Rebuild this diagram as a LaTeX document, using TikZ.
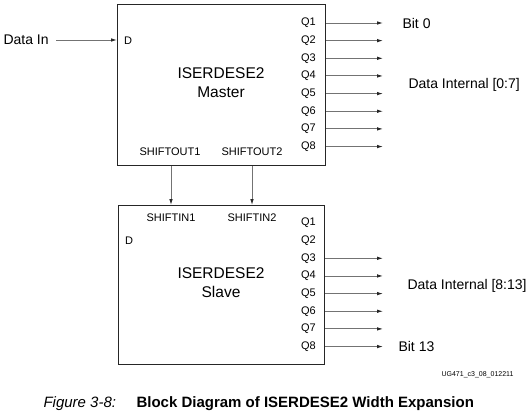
\documentclass[tikz,border=0pt]{standalone}
\usepackage{fontspec}
\setmainfont{Liberation Sans}
\usetikzlibrary{arrows.meta}

\tikzset{
	blk/.style={draw=black!85,line width=1.3pt,anchor=north west,inner sep=0pt},
	pin/.style={font=\fontsize{11}{13}\selectfont,inner sep=1pt},
	wire/.style={draw=black!55,line width=0.9pt,-{Latex[length=6pt,width=3.6pt,color=black!85]}},
	lbl/.style={font=\fontsize{14}{16}\selectfont,anchor=west},
	title/.style={font=\fontsize{15.5}{19}\selectfont,align=center}
}

\begin{document}
\begin{tikzpicture}[x=1pt,y=-1pt]
	\useasboundingbox (0,0) rectangle (529,414);

	% master block
	\node[blk,minimum width=208pt,minimum height=161pt] (master) at (117,4) {};
	\node[title] (mname) at (221,82.5) {ISERDESE2\\Master};
	\node[pin,anchor=west] (md) at (123,41) {D};
	\node[pin] (so1) at (170,152) {SHIFTOUT1};
	\node[pin] (so2) at (252,152) {SHIFTOUT2};
	\foreach \i in {1,...,8}{
		\node[pin,anchor=east] (mq\i) at (317,{5.35+17.65*\i}) {Q\i};
		\coordinate (mo\i) at (383,{5.35+17.65*\i});
		\draw[wire] (master.east |- mq\i) -- (mo\i);
	}

	% slave block
	\node[blk,minimum width=206pt,minimum height=159pt] (slave) at (118,205) {};
	\node[title] (sname) at (221,282.5) {ISERDESE2\\Slave};
	\node[pin,anchor=west] (sd) at (124,241) {D};
	\node[pin] (si1) at (171,218) {SHIFTIN1};
	\node[pin] (si2) at (252,218) {SHIFTIN2};
	\foreach \i in {1,...,8}
		\node[pin,anchor=east] (sq\i) at (317,{205.35+17.65*\i}) {Q\i};
	\foreach \i in {3,...,8}{
		\coordinate (so\i) at (383,{205.35+17.65*\i});
		\draw[wire] (slave.east |- sq\i) -- (so\i);
	}

	% cascade
	\draw[wire] (master.south -| si1) -- (slave.north -| si1);
	\draw[wire] (master.south -| si2) -- (slave.north -| si2);

	% outside labels
	\node[lbl] (din) at (0,40) {Data In};
	\draw[wire] ([xshift=4pt]din.east) -- (master.west |- din);
	\node[lbl] (bit0) at (399,23) {Bit 0};
	\node[lbl] (dlo) at (405,85) {Data Internal [0:7]};
	\node[lbl] (dhi) at (404,286) {Data Internal [8:13]};
	\node[lbl] (bit13) at (395,346) {Bit 13};

	\node[font=\fontsize{7}{8}\selectfont,anchor=east] (fid) at (517,375) {UG471\_c3\_08\_012211};
	\node[font=\fontsize{15}{18}\selectfont\itshape,anchor=west] (fignum) at (40,404) {Figure 3-8:};
	\node[font=\fontsize{15}{18}\selectfont\bfseries,anchor=west] (figtitle) at (133,404) {Block Diagram of ISERDESE2 Width Expansion};
\end{tikzpicture}
\end{document}
